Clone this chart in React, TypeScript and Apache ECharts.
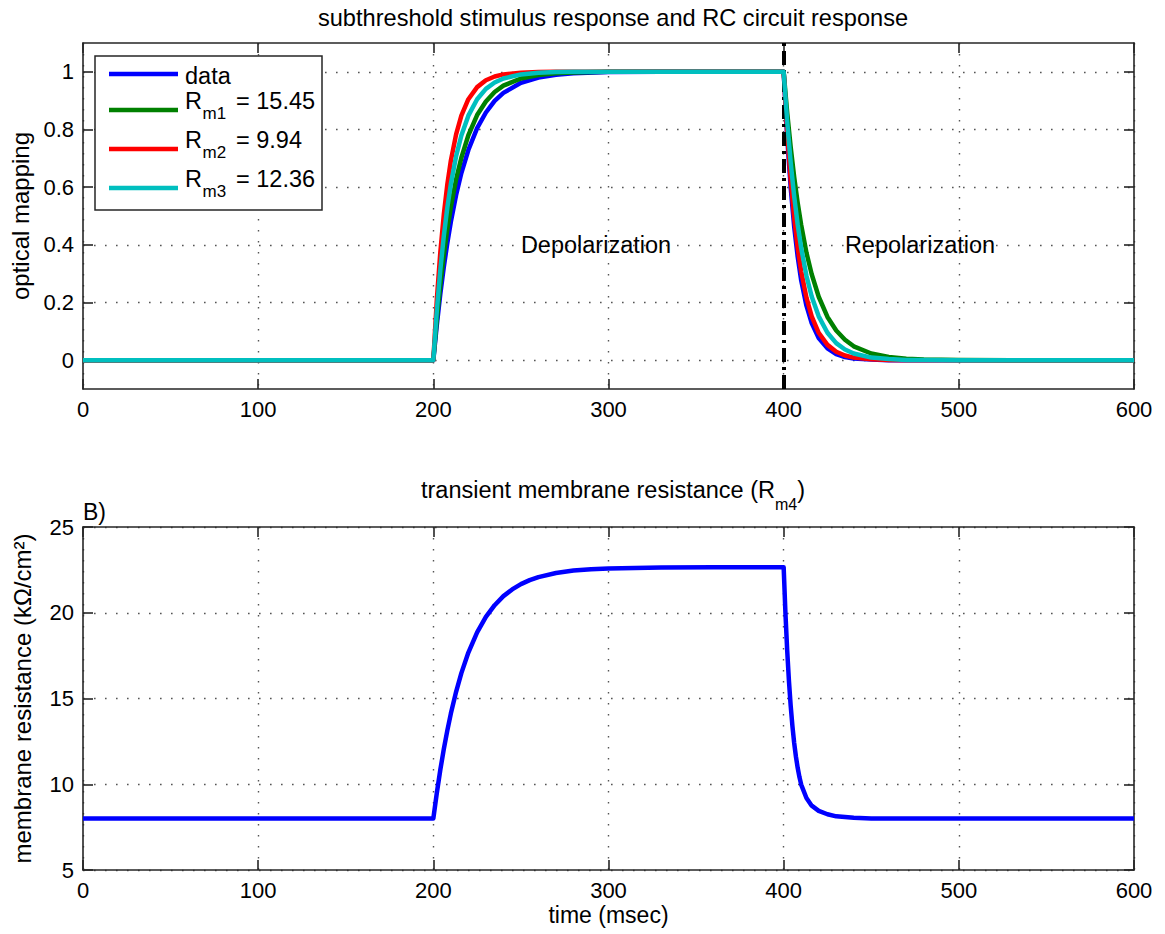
import React, { useEffect, useRef } from 'react';
import * as echarts from 'echarts';

// ---------- data ----------
const timeTop = [0, 200, 202, 204, 206, 208, 210, 213, 216, 220, 225, 230, 235, 240, 250, 260, 270, 280, 300, 330, 400, 402, 404, 406, 408, 410, 413, 416, 420, 425, 430, 435, 440, 450, 460, 470, 480, 500, 530, 600];

const dataResp = [0, 0, 0.123, 0.230, 0.324, 0.407, 0.480, 0.573, 0.649, 0.729, 0.805, 0.859, 0.899, 0.927, 0.962, 0.980, 0.990, 0.995, 0.999, 1, 1,
  0.774, 0.599, 0.463, 0.359, 0.277, 0.189, 0.129, 0.077, 0.041, 0.021, 0.011, 0.006, 0.002, 0, 0, 0, 0, 0, 0];
const rm1Resp = [0, 0, 0.141, 0.261, 0.365, 0.454, 0.531, 0.627, 0.702, 0.780, 0.850, 0.897, 0.930, 0.952, 0.977, 0.989, 0.995, 0.998, 1, 1, 1,
  0.859, 0.739, 0.635, 0.546, 0.469, 0.373, 0.298, 0.220, 0.150, 0.103, 0.071, 0.048, 0.023, 0.011, 0.005, 0.002, 0.001, 0, 0];
const rm2Resp = [0, 0, 0.210, 0.375, 0.506, 0.610, 0.692, 0.783, 0.848, 0.905, 0.947, 0.971, 0.984, 0.991, 0.997, 0.999, 1, 1, 1, 1, 1,
  0.790, 0.625, 0.494, 0.390, 0.308, 0.217, 0.152, 0.095, 0.053, 0.029, 0.016, 0.009, 0.003, 0.001, 0, 0, 0, 0, 0];
const rm3Resp = [0, 0, 0.172, 0.314, 0.432, 0.530, 0.611, 0.707, 0.779, 0.848, 0.905, 0.941, 0.963, 0.977, 0.991, 0.997, 0.999, 1, 1, 1, 1,
  0.828, 0.686, 0.568, 0.470, 0.389, 0.293, 0.221, 0.152, 0.095, 0.059, 0.037, 0.023, 0.009, 0.004, 0.001, 0.001, 0, 0, 0];

const timeBottom = [0, 200, 202, 204, 206, 208, 210, 213, 216, 220, 225, 230, 235, 240, 245, 250, 255, 260, 270, 280, 290, 300, 330, 360, 400,
  401, 402, 403, 404, 405, 406, 407, 408, 409, 410, 413, 416, 420, 425, 430, 440, 450, 470, 500, 600];
const rm4Values = [8, 8, 9.50, 10.85, 12.06, 13.14, 14.12, 15.39, 16.48, 17.68, 18.86, 19.76, 20.44, 20.97, 21.36, 21.67, 21.90, 22.08, 22.32, 22.46, 22.54, 22.58, 22.64, 22.65, 22.65,
  20.0, 17.82, 16.04, 14.58, 13.39, 12.41, 11.61, 10.96, 10.42, 9.98, 9.2, 8.75, 8.45, 8.25, 8.13, 8.04, 8.01, 8, 8, 8];

const seriesNames = ['data', 'Rm1 = 15.45', 'Rm2 = 9.94', 'Rm3 = 12.36'];
const seriesColors = ['#0000ff', '#008000', '#ff0000', '#00bfbf'];
const topValues = [dataResp, rm1Resp, rm2Resp, rm3Resp];
const yTicksTop = [0, 0.2, 0.4, 0.6, 0.8, 1];
const stimulusEnd = 400;

const titleTop = 'subthreshold stimulus response and RC circuit response';
const titleBottom = 'transient membrane resistance (R';
const titleBottomSub = 'm4';
const yNameTop = 'optical mapping';
const yNameBottom = 'membrane resistance (kΩ/cm²)';
const xNameBottom = 'time (msec)';

// ---------- layout / styles ----------
const FONT = "'Liberation Sans', Arial, Helvetica, sans-serif";
const AXIS_COLOR = '#262626';
const FS = 22;
const FS_TEXT = 23.5;
const FS_SUB = 17;

// legend box layout (pixels)
const legendBox = { x: 95, y: 56, width: 227, height: 154 };
const legendLineX = [109, 178];
const legendTextX = 185;
const legendRowY = [74, 110, 149, 188];

const axisLine = { show: true, onZero: false, lineStyle: { color: AXIS_COLOR, width: 1.6 } };
const axisTick = { show: true, inside: true, length: 10, lineStyle: { color: AXIS_COLOR, width: 1.6 } };
const gridDots = { show: true, lineStyle: { color: '#555', width: 1.4, type: [1.6, 9.4] } };
const labelStyle = { color: '#000', fontSize: FS, fontFamily: FONT };

function legendGraphics(): any[] {
  const out: any[] = [
    {
      type: 'rect', z: 5,
      shape: { ...legendBox },
      style: { fill: '#fff', stroke: AXIS_COLOR, lineWidth: 1.5 },
    },
  ];
  seriesNames.forEach((name, i) => {
    const y = legendRowY[i];
    out.push({
      type: 'line', z: 6,
      shape: { x1: legendLineX[0], y1: y, x2: legendLineX[1], y2: y },
      style: { stroke: seriesColors[i], lineWidth: 4.5 },
    });
    const m = name.match(/^R(m\d) (= .*)$/);
    const base = { fontFamily: FONT, fill: '#000', align: 'left', verticalAlign: 'middle' };
    if (m) {
      out.push({ type: 'text', z: 7, x: legendTextX, y: y - 9.5, style: { ...base, text: 'R', fontSize: FS_TEXT } });
      out.push({ type: 'text', z: 7, x: legendTextX + 17.5, y: y + 3, style: { ...base, text: m[1], fontSize: FS_SUB } });
      out.push({ type: 'text', z: 7, x: legendTextX + 51, y: y - 9.5, style: { ...base, text: m[2], fontSize: FS_TEXT } });
    } else {
      out.push({ type: 'text', z: 7, x: legendTextX, y: y + 2, style: { ...base, text: name, fontSize: FS_TEXT } });
    }
  });
  return out;
}

export default function App() {
  const ref = useRef<HTMLDivElement>(null);

  useEffect(() => {
    if (!ref.current) return;
    const chart = echarts.init(ref.current, null, { renderer: 'svg' });

    const topSeries = topValues.map((vals, i) => ({
      type: 'line',
      name: seriesNames[i],
      xAxisIndex: 0,
      yAxisIndex: 0,
      data: timeTop.map((t, k) => [t, vals[k]]),
      showSymbol: false,
      symbol: 'none',
      lineStyle: { color: seriesColors[i], width: 4.5, join: 'round' },
      itemStyle: { color: seriesColors[i] },
      z: 2 + i,
      ...(i === topValues.length - 1
        ? {
            markLine: {
              silent: true,
              symbol: ['none', 'none'],
              label: { show: false },
              lineStyle: { color: '#000', width: 4, type: [14, 5, 3, 5] },
              data: [{ xAxis: stimulusEnd }],
            },
          }
        : {}),
    }));

    const option: any = {
      animation: false,
      backgroundColor: '#fff',
      textStyle: { fontFamily: FONT },
      title: [
        {
          text: titleTop,
          left: 608,
          top: 1,
          textAlign: 'center',
          textStyle: { fontSize: 23.6, fontWeight: 'normal', color: '#000', fontFamily: FONT },
        },
        {
          text: `{t|${titleBottom}}{s|${titleBottomSub}}{t|)}`,
          left: 608,
          top: 472.5,
          textAlign: 'center',
          textStyle: {
            fontWeight: 'normal',
            rich: {
              t: { fontSize: FS_TEXT, fontWeight: 'normal', lineHeight: 24, verticalAlign: 'top', color: '#000', fontFamily: FONT },
              s: { fontSize: 16, fontWeight: 'normal', lineHeight: 16, padding: [19, 0, 0, 0], verticalAlign: 'top', color: '#000', fontFamily: FONT },
            },
          },
        },
      ],
      grid: [
        { left: 83, right: 31, top: 43, height: 346, containLabel: false },
        { left: 83, right: 31, top: 527, height: 343, containLabel: false },
      ],
      xAxis: [
        {
          type: 'value', gridIndex: 0, min: 0, max: 600, interval: 100, position: 'bottom',
          axisLine, axisTick, splitLine: gridDots,
          axisLabel: { ...labelStyle, margin: 9 },
        },
        {
          type: 'value', gridIndex: 1, min: 0, max: 600, interval: 100, position: 'bottom',
          axisLine, axisTick, splitLine: gridDots,
          axisLabel: { ...labelStyle, margin: 9 },
          name: xNameBottom, nameLocation: 'middle', nameGap: 33,
          nameTextStyle: { ...labelStyle, fontSize: 23 },
        },
        {
          type: 'value', gridIndex: 0, min: 0, max: 600, interval: 100, position: 'top',
          axisLine, axisTick, splitLine: { show: false }, axisLabel: { show: false },
        },
        {
          type: 'value', gridIndex: 1, min: 0, max: 600, interval: 100, position: 'top',
          axisLine, axisTick, splitLine: { show: false }, axisLabel: { show: false },
        },
      ],
      yAxis: [
        {
          type: 'value', gridIndex: 0, min: -0.1, max: 1.1, position: 'left',
          axisLine,
          axisTick: { ...axisTick, customValues: yTicksTop },
          splitLine: gridDots,
          axisLabel: { ...labelStyle, margin: 9, customValues: yTicksTop },
          name: yNameTop, nameLocation: 'middle', nameGap: 49,
          nameTextStyle: { ...labelStyle, fontSize: 24 },
        },
        {
          type: 'value', gridIndex: 1, min: 5, max: 25, interval: 5, position: 'left',
          axisLine, axisTick, splitLine: gridDots,
          axisLabel: { ...labelStyle, margin: 9 },
          name: yNameBottom, nameLocation: 'middle', nameGap: 49,
          nameTextStyle: { ...labelStyle, fontSize: 24 },
        },
        {
          type: 'value', gridIndex: 0, min: -0.1, max: 1.1, position: 'right',
          axisLine,
          axisTick: { ...axisTick, customValues: yTicksTop },
          splitLine: { show: false },
          axisLabel: { show: false, customValues: yTicksTop },
        },
        {
          type: 'value', gridIndex: 1, min: 5, max: 25, interval: 5, position: 'right',
          axisLine, axisTick, splitLine: { show: false }, axisLabel: { show: false },
        },
      ],
      graphic: [
        ...legendGraphics(),
        {
          type: 'text', x: 596, y: 245, z: 20,
          style: { text: 'Depolarization', fontSize: FS_TEXT, fontFamily: FONT, fill: '#000', align: 'center', verticalAlign: 'middle' },
        },
        {
          type: 'text', x: 920, y: 245, z: 20,
          style: { text: 'Repolarization', fontSize: FS_TEXT, fontFamily: FONT, fill: '#000', align: 'center', verticalAlign: 'middle' },
        },
        {
          type: 'text', x: 83, y: 512, z: 20,
          style: { text: 'B)', fontSize: 23, fontFamily: FONT, fill: '#000', align: 'left', verticalAlign: 'middle' },
        },
      ],
      series: [
        ...topSeries,
        {
          type: 'line',
          name: 'Rm4',
          xAxisIndex: 1,
          yAxisIndex: 1,
          data: timeBottom.map((t, k) => [t, rm4Values[k]]),
          showSymbol: false,
          symbol: 'none',
          lineStyle: { color: '#0000ff', width: 4.5, join: 'round' },
          itemStyle: { color: '#0000ff' },
        },
      ],
    };

    chart.setOption(option);
    return () => chart.dispose();
  }, []);

  return (
    <div
      ref={ref}
      style={{ position: 'fixed', left: 0, top: 0, width: 1165, height: 934, background: '#fff' }}
    />
  );
}
